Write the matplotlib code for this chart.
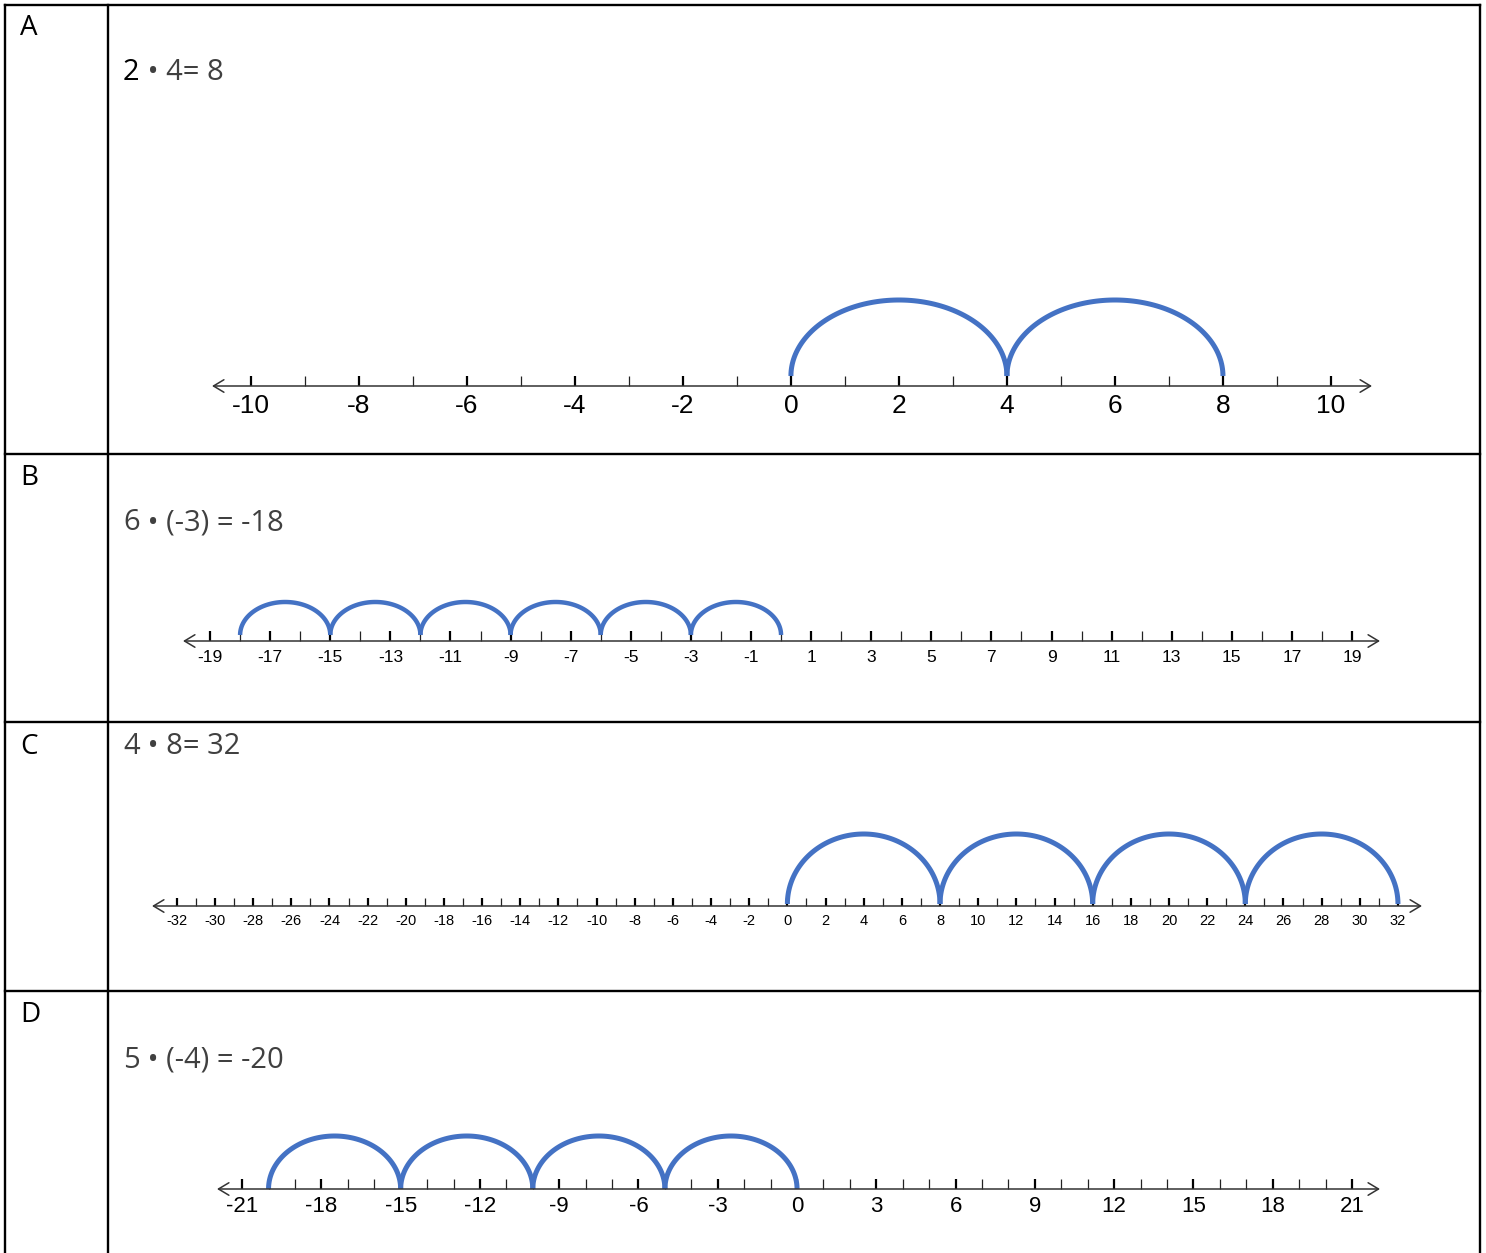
import matplotlib.pyplot as plt
from matplotlib.lines import Line2D
from matplotlib.text import Annotation
import numpy as np

W, H = 1486, 1253

# table content
row_letters = ["A", "B", "C", "D"]
eq_first = ["2", "6", "4", "5"]
eq_rest = [" \u2022 4= 8", " \u2022 (-3) = -18", " \u2022 8= 32", " \u2022 (-4) = -20"]

# jumps drawn on each number line (count, size), starting at 0
jump_counts = [2, 6, 4, 4]
jump_sizes = [4, -3, 8, -5]

# labelled ticks on each line
labels_a = [-10, -8, -6, -4, -2, 0, 2, 4, 6, 8, 10]
labels_b = [-19, -17, -15, -13, -11, -9, -7, -5, -3, -1, 1, 3, 5, 7, 9, 11, 13, 15, 17, 19]
labels_c = [-32, -30, -28, -26, -24, -22, -20, -18, -16, -14, -12, -10, -8, -6, -4, -2,
            0, 2, 4, 6, 8, 10, 12, 14, 16, 18, 20, 22, 24, 26, 28, 30, 32]
labels_d = [-21, -18, -15, -12, -9, -6, -3, 0, 3, 6, 9, 12, 15, 18, 21]
major_labels = [labels_a, labels_b, labels_c, labels_d]
# where the arrows end
line_ends = [(-10.72, 10.76), (-19.9, 19.93), (-33.3, 33.26), (-21.95, 22.06)]

# layout (pixels)
axis_y = [386, 641, 906, 1189]
left_px = [212, 183, 152, 217]
right_px = [1372, 1380, 1422, 1380]
arc_h = [76, 33, 70, 53]
arc_base = [10, 6, 2, 0]
arc_lw = [3.6, 3.2, 3.6, 3.6]
lab_size = [19, 12.5, 10.5, 16]
lab_pad = [5.6, 6.8, 5.6, 5.2]
tick_len = [7.2, 7.2, 6.0, 7.2]
letter_y = [28, 478, 747, 1015]
eq_y = [72, 523, 746, 1060]

BLUE = "#4472C4"
GREY = "#404040"

fig = plt.figure(figsize=(W / 100, H / 100), dpi=100)


def fx(px):
    return px / W


def fy(py):
    return 1 - py / H


# table grid
lw_tab = 1.7
for x in [4.5, 108, 1480]:
    fig.add_artist(Line2D([fx(x), fx(x)], [fy(4.5), fy(H)], color="black", lw=lw_tab))
for y in [4.5, 454, 722, 991]:
    fig.add_artist(Line2D([fx(4.5), fx(1480)], [fy(y), fy(y)], color="black", lw=lw_tab))

for i in range(4):
    fig.text(fx(20), fy(letter_y[i]), row_letters[i], fontsize=20, family="Open Sans",
             va="center", ha="left", color="black")
    t1 = fig.text(fx(123), fy(eq_y[i]), eq_first[i], fontsize=21, family="Open Sans",
                  va="center", ha="left", color="black" if i == 0 else GREY)
    fig.add_artist(Annotation(eq_rest[i], xy=(1, 0), xycoords=t1, va="bottom", ha="left",
                              fontsize=21, family="Open Sans", color=GREY))

    # number line axes: 1 y-unit = 1 pixel
    top = axis_y[i] - 120
    bot = axis_y[i] + 40
    ax = fig.add_axes([fx(left_px[i]), fy(bot), fx(right_px[i]) - fx(left_px[i]),
                       fy(top) - fy(bot)])
    ax.set_xlim(*line_ends[i])
    ax.set_ylim(-40, 120)
    ax.patch.set_alpha(0)
    for s in ["top", "left", "right"]:
        ax.spines[s].set_visible(False)
    ax.spines["bottom"].set_position(("data", 0))
    ax.spines["bottom"].set_visible(False)
    ax.set_yticks([])

    labs = major_labels[i]
    ax.set_xticks(labs, [str(v) for v in labs])
    ax.set_xticks(np.arange(labs[0], labs[-1] + 1), minor=True)
    ax.tick_params(axis="x", which="major", direction="in", length=tick_len[i], width=1.6,
                   color="black", labelsize=lab_size[i], pad=lab_pad[i])
    ax.tick_params(axis="x", which="minor", direction="in", length=tick_len[i], width=0.9,
                   color="#222222")
    for lab in ax.get_xticklabels():
        lab.set_family("Liberation Sans")

    # the line with open arrowheads
    ax.annotate("", xy=(line_ends[i][1], 0), xytext=(line_ends[i][0], 0),
                arrowprops=dict(arrowstyle="<->,head_length=0.75,head_width=0.45",
                                lw=1.1, color="#333333", shrinkA=0, shrinkB=0,
                                mutation_scale=10))

    # jumps
    t = np.linspace(0, np.pi, 100)
    start = 0
    for k in range(jump_counts[i]):
        end = start + jump_sizes[i]
        xs = start + (end - start) * (1 - np.cos(t)) / 2
        ys = arc_base[i] + arc_h[i] * np.sin(t)
        ax.plot(xs, ys, color=BLUE, lw=arc_lw[i], solid_capstyle="butt")
        start = end

fig.savefig("out.png", dpi=100)
